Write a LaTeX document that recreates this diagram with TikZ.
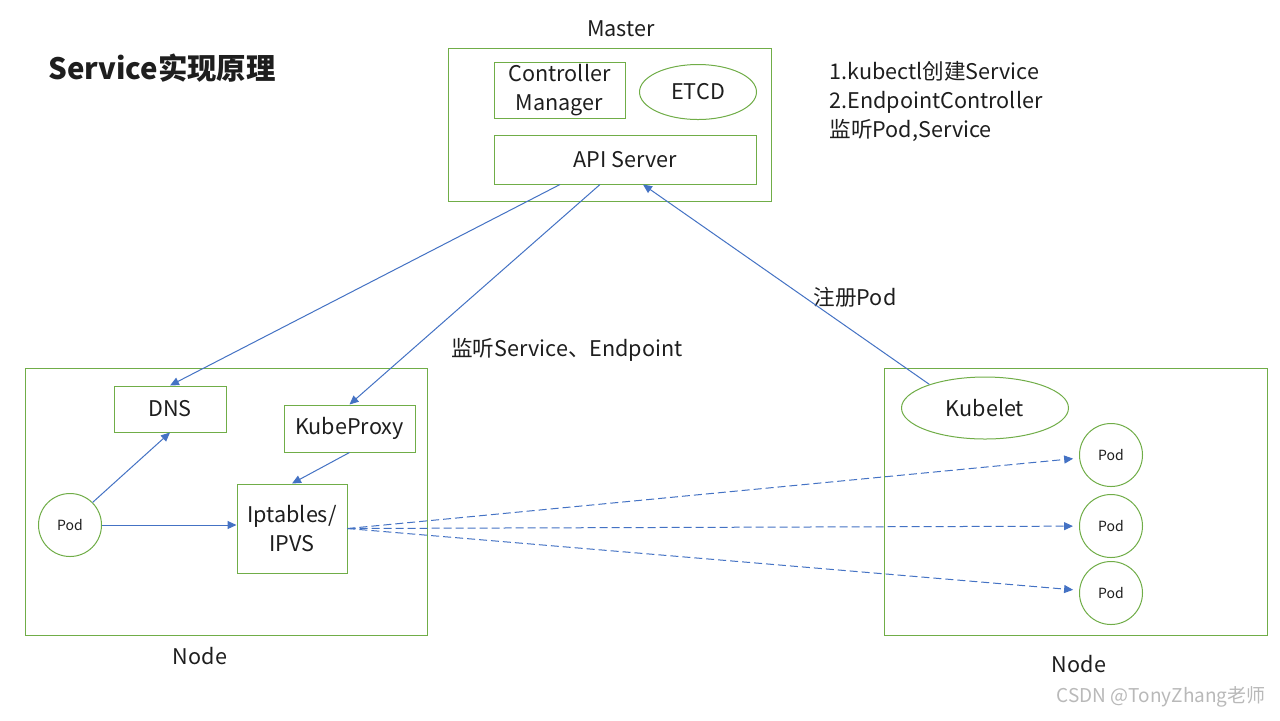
\documentclass[tikz,border=0pt]{standalone}
\usepackage{fontspec}
\setmainfont{Noto Sans CJK SC}
\usetikzlibrary{arrows.meta,calc,positioning,shapes.geometric}
\definecolor{boxgreen}{HTML}{70AD47}
\definecolor{arrowblue}{HTML}{4472C4}
\definecolor{textgray}{HTML}{1E1E1E}
\tikzset{%
        x = 0.5pt,
        y = -0.5pt,
        every node/.style = {font=\fontsize{10.8}{14.5}\selectfont, text=textgray, inner sep=0pt},
        box/.style = {draw=boxgreen, line width=0.5pt, rectangle, align=center},
        oval/.style = {draw=boxgreen, line width=0.5pt, ellipse},
        podc/.style = {draw=boxgreen, line width=0.5pt, circle, minimum size=31.5pt, font=\fontsize{7}{8}\selectfont},
        link/.style = {draw=arrowblue, line width=0.5pt, -{Triangle[length=4.5pt,width=4pt]}},
        dlink/.style = {link, dash pattern=on 4pt off 2pt, shorten >=3pt}
}
\begin{document}
\begin{tikzpicture}
        \useasboundingbox[fill=white] (0,0) rectangle (1280,720);
        % title and notes
        \node[anchor=west, font=\bfseries\fontsize{14.7}{17}\selectfont] (title) at (48,68) {Service实现原理};
        \node[anchor=west, align=left] (notes) at (829,101) {1.kubectl创建Service\\2.EndpointController\\监听Pod,Service};
        % master
        \node[box, minimum width=161.5pt, minimum height=76.5pt] (master) at (609.5,124.5) {};
        \node (masterlbl) at (621,29) {Master};
        \node[box, minimum width=65.5pt, minimum height=28pt] (ctrl) at (559.5,90) {Controller\\Manager};
        \node[oval, minimum width=58.5pt, minimum height=27.5pt] (etcd) at (698,92) {ETCD};
        \node[box, minimum width=131pt, minimum height=24.5pt] (api) at (625,159.5) {API Server};
        % left node
        \node[box, minimum width=201pt, minimum height=133.5pt] (nodeL) at (226,501.5) {};
        \node (nodeLlbl) at (200,656) {Node};
        \node[box, minimum width=56pt, minimum height=23pt] (dns) at (170,409) {DNS};
        \node[box, minimum width=65.5pt, minimum height=23.5pt] (proxy) at (349.5,428.5) {KubeProxy};
        \node[box, minimum width=55pt, minimum height=44.5pt] (ipt) at (292,528.5) {Iptables/\\IPVS};
        \node[podc] (pod) at (70,525) {Pod};
        % right node
        \node[box, minimum width=191.5pt, minimum height=133.5pt] (nodeR) at (1075.5,501.5) {};
        \node (nodeRlbl) at (1079,664) {Node};
        \node[oval, minimum width=83.5pt, minimum height=31pt] (kubelet) at (985,408) {Kubelet};
        \foreach \i/\y in {1/455, 2/526, 3/593}
            \node[podc] (p\i) at (1111,\y) {Pod};
        % labels
        \node (reglbl) at (855,297) {注册Pod};
        \node (watchlbl) at (567,350) {监听Service、Endpoint};
        \node[anchor=east, text=gray!55, font=\fontsize{9.5}{11}\selectfont] (mark) at (1266,697) {CSDN @TonyZhang老师};
        % connectors
        \draw[link] ($(api.south)+(-65,0)$) -- (dns.north);
        \draw[link] ($(api.south)+(-25,0)$) -- (proxy.north);
        \draw[link] (kubelet.157) -- ($(api.south)+(18,0)$);
        \draw[link] (pod.45) -- (dns.south);
        \draw[link] (pod.east) -- (pod.east -| ipt.west);
        \draw[link] (proxy.south) -- (ipt.north);
        \foreach \i in {1,2,3}
            \draw[dlink] (ipt.east) -- (p\i);
\end{tikzpicture}
\end{document}
